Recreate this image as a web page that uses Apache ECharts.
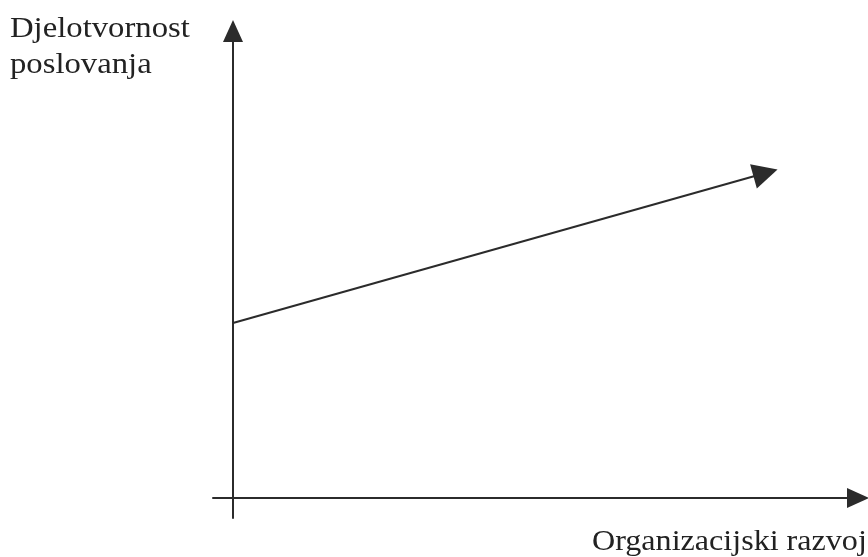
<!DOCTYPE html>
<html>
<head>
<meta charset="utf-8">
<script src="https://cdn.jsdelivr.net/npm/echarts@6/dist/echarts.min.js"></script>
<style>
  html, body { margin: 0; padding: 0; background: #fff; }
  #chart { width: 868px; height: 557px; }
</style>
</head>
<body>
<div id="chart"></div>
<script>
// axis ranges (arbitrary units, axes cross at 0)
const xRange = [-0.4, 12.5];
const yRange = [-0.4, 9.34];
// the rising line: start on the y axis, end at the arrow
const lineX = [0, 10.65];
const lineY = [3.5, 6.5];
const yTitle = ["Djelotvornost", "poslovanja"];
const xTitle = "Organizacijski razvoj";

const ink = "#2b2b2b";
const font = "Liberation Serif";

const chart = echarts.init(document.getElementById("chart"));
const option = {
  animation: false,
  grid: { left: 213, right: 10, top: 31, bottom: 39, containLabel: false },
  xAxis: {
    type: "value",
    min: xRange[0],
    max: xRange[1],
    axisLine: {
      onZero: true,
      symbol: ["none", "triangle"],
      symbolSize: [20, 22],
      lineStyle: { color: ink, width: 2 },
    },
    axisTick: { show: false },
    axisLabel: { show: false },
    splitLine: { show: false },
  },
  yAxis: {
    type: "value",
    min: yRange[0],
    max: yRange[1],
    axisLine: {
      onZero: true,
      symbol: ["none", "triangle"],
      symbolSize: [20, 22],
      lineStyle: { color: ink, width: 2 },
    },
    axisTick: { show: false },
    axisLabel: { show: false },
    splitLine: { show: false },
  },
  series: [
    {
      type: "lines",
      coordinateSystem: "cartesian2d",
      symbol: ["none", "triangle"],
      symbolSize: [20, 25],
      lineStyle: { color: ink, width: 2, opacity: 1 },
      itemStyle: { color: ink },
      data: [
        {
          coords: [
            [lineX[0], lineY[0]],
            [lineX[1], lineY[1]],
          ],
        },
      ],
    },
  ],
  graphic: [
    {
      type: "text",
      left: 10,
      top: 11,
      scaleX: 1.09,
      style: {
        text: yTitle.join("\n"),
        font: "30px '" + font + "'",
        lineHeight: 36,
        fill: "#222",
      },
    },
    {
      type: "text",
      left: 592,
      top: 525,
      scaleX: 1.07,
      style: {
        text: xTitle,
        font: "30px '" + font + "'",
        lineHeight: 34,
        fill: "#222",
      },
    },
  ],
};
chart.setOption(option);
window.addEventListener("resize", function () {
  chart.resize();
});
</script>
</body>
</html>
